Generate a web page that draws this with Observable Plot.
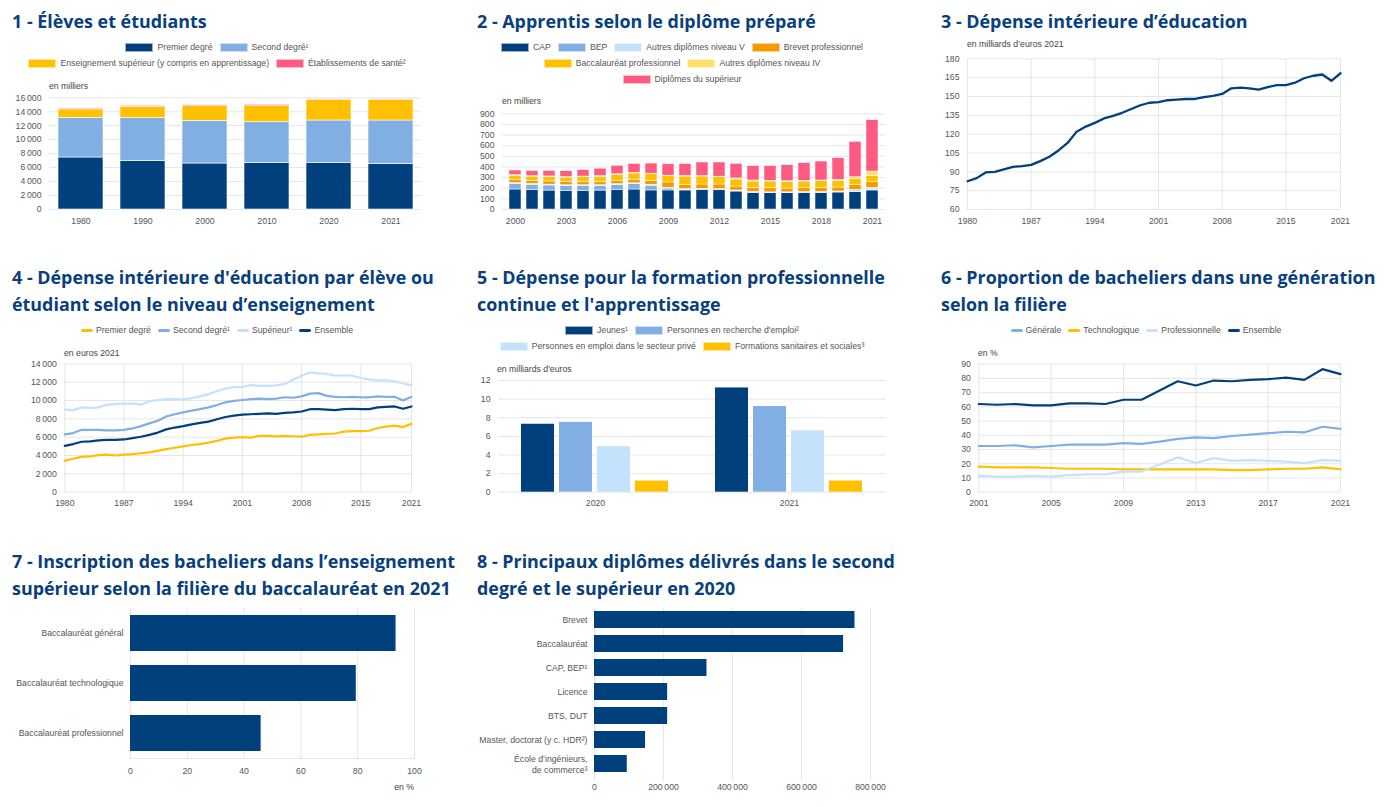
<!DOCTYPE html>
<html><head><meta charset="utf-8">
<script src="https://cdn.jsdelivr.net/npm/d3@7"></script>
<script src="https://cdn.jsdelivr.net/npm/@observablehq/plot@0.6"></script>
<style>
body{margin:0;background:#fff;width:1387px;height:807px;position:relative;overflow:hidden;font-family:"Liberation Sans",Arial,sans-serif;}
.title{position:absolute;font-family:"Open Sans",sans-serif;font-weight:700;font-size:17.9px;line-height:27px;color:#08407e;white-space:nowrap;}
.unit{position:absolute;font-size:8.7px;color:#444;white-space:nowrap;line-height:10px;}
.leg{position:absolute;display:flex;justify-content:center;align-items:center;font-size:8.7px;color:#555;white-space:nowrap;height:12px;}
.leg .it{display:flex;align-items:center;margin:0 3.5px;}
.leg .sw{width:28px;height:9px;margin-right:4px;box-sizing:border-box;border:0.5px solid rgba(255,255,255,0.6);}
.leg .ln{width:12px;height:3px;border-radius:1.5px;margin-right:3px;}
.abs{position:absolute;}
</style></head><body><script>
// ---------- DATA ----------
// Chart 1
const c1Years = ["1980","1990","2000","2010","2020","2021"];
const c1Series = ["Premier degré","Second degré¹","Enseignement supérieur (y compris en apprentissage)","Établissements de santé²"];
const c1Premier = [7450,6970,6590,6690,6640,6540];
const c1Second  = [5680,6120,6110,5820,6110,6210];
const c1Sup     = [1200,1620,2100,2290,2960,2960];
const c1Sante   = [140,140,150,200,90,90];
const c1Ticks = [0,2000,4000,6000,8000,10000,12000,14000,16000];

// Chart 2
const c2Years = [2000,2001,2002,2003,2004,2005,2006,2007,2008,2009,2010,2011,2012,2013,2014,2015,2016,2017,2018,2019,2020,2021];
const c2Series = ["CAP","BEP","Autres diplômes niveau V","Brevet professionnel","Baccalauréat professionnel","Autres diplômes niveau IV","Diplômes du supérieur"];
const c2CAP     = [188,183,178,175,175,178,185,188,179,179,179,185,182,169,157,154,154,157,157,160,166,179];
const c2BEP     = [53,50,48,45,45,42,45,50,45,18,5,3,2,2,1,1,1,1,1,1,1,2];
const c2AutresV = [8,8,8,8,8,8,8,8,8,8,8,7,7,8,8,6,6,6,6,8,18,23];
const c2BP      = [28,28,30,30,32,33,33,35,38,50,38,40,44,37,38,40,36,37,40,38,44,53];
const c2BacPro  = [40,40,42,42,45,48,55,58,62,58,80,75,69,66,59,62,63,62,62,63,56,60];
const c2AutresIV= [5,5,5,5,5,5,5,5,5,5,5,5,5,10,10,7,6,7,7,9,19,40];
const c2Sup     = [45,48,52,55,60,70,80,85,95,107,112,127,133,137,135,138,151,166,178,204,332,483];
const c2Ticks = [0,100,200,300,400,500,600,700,800,900];
const c2XTicks = [2000,2003,2006,2009,2012,2015,2018,2021];

// Chart 3
const c3Years = [1980,1981,1982,1983,1984,1985,1986,1987,1988,1989,1990,1991,1992,1993,1994,1995,1996,1997,1998,1999,2000,2001,2002,2003,2004,2005,2006,2007,2008,2009,2010,2011,2012,2013,2014,2015,2016,2017,2018,2019,2020,2021];
const c3Values = [82.5,85,89.5,90,92,94,94.5,95.5,98.5,102,107,113,122,126,129,132.5,134.5,137,140,143,145,145.5,147,147.5,148,148,149.5,150.5,152,156.5,157,156.5,155.5,157.5,159,159,161,164.5,166.5,167.5,162.5,168.5];
const c3YTicks = [60,75,90,105,120,135,150,165,180];
const c3XTicks = [1980,1987,1994,2001,2008,2015,2021];

// Chart 4
const c4Series = ["Premier degré","Second degré¹","Supérieur¹","Ensemble"];
const c4Premier = [3450,3650,3850,3900,4050,4100,4000,4100,4150,4250,4350,4500,4700,4850,5000,5150,5250,5400,5600,5850,5950,6000,5950,6150,6150,6100,6150,6100,6050,6250,6300,6350,6400,6600,6650,6650,6700,7000,7150,7250,7100,7450];
const c4Second  = [6300,6450,6800,6800,6800,6750,6750,6800,6950,7200,7500,7800,8250,8500,8700,8900,9050,9250,9500,9800,9950,10050,10150,10200,10150,10200,10350,10300,10450,10750,10800,10500,10400,10350,10400,10350,10350,10450,10400,10400,10000,10400];
const c4Sup     = [9000,8950,9250,9200,9250,9550,9600,9650,9650,9550,9900,10050,10150,10150,10100,10250,10450,10700,11000,11300,11450,11450,11700,11600,11600,11650,11800,12250,12700,13050,12950,12900,12700,12750,12700,12450,12300,12200,12200,12100,11850,11650];
const c4Ens     = [5050,5250,5500,5550,5650,5700,5700,5750,5900,6050,6250,6500,6850,7050,7200,7400,7550,7700,7950,8200,8350,8450,8500,8550,8600,8550,8650,8700,8800,9050,9050,9000,8950,9050,9100,9050,9050,9250,9300,9350,9100,9350];
const c4YTicks = [0,2000,4000,6000,8000,10000,12000,14000];

// Chart 5
const c5Years = ["2020","2021"];
const c5Series = ["Jeunes¹","Personnes en recherche d'emploi²","Personnes en emploi dans le secteur privé","Formations sanitaires et sociales³"];
const c5Jeunes = [7.3,11.2];
const c5Recherche = [7.5,9.2];
const c5Emploi = [4.9,6.6];
const c5Sanit = [1.2,1.2];
const c5YTicks = [0,2,4,6,8,10,12];

// Chart 6
const c6Years = [2001,2002,2003,2004,2005,2006,2007,2008,2009,2010,2011,2012,2013,2014,2015,2016,2017,2018,2019,2020,2021];
const c6Series = ["Générale","Technologique","Professionnelle","Ensemble"];
const c6Gen  = [32.5,32.5,33,31.5,32.5,33.5,33.5,33.5,34.5,34,35.5,37.5,38.5,38,39.5,40.5,41.5,42.5,42,46,44.5];
const c6Tech = [18,17.5,17.5,17.5,17,16.5,16.5,16.5,16,16,16,16,16,16,15.5,15.5,16,16.5,16.5,17.5,16];
const c6Pro  = [11.5,11,11,11.5,11,12,12.5,12.5,14.5,14.5,19.5,24.5,20.5,24,22,22.5,22,21.5,20.5,22.5,22];
const c6Ens  = [62,61.5,62,61,61,62.5,62.5,62,65,65,71.5,78,75,78.5,78,79,79.5,80.5,79,86.5,83];
const c6YTicks = [0,10,20,30,40,50,60,70,80,90];
const c6XTicks = [2001,2005,2009,2013,2017,2021];

// Chart 7
const c7Labels = ["Baccalauréat général","Baccalauréat technologique","Baccalauréat professionnel"];
const c7Values = [93.5,79.5,46];
const c7XTicks = [0,20,40,60,80,100];

// Chart 8
const c8Labels = ["Brevet","Baccalauréat","CAP, BEP¹","Licence","BTS, DUT","Master, doctorat (y c. HDR²)","École d’ingénieurs,\nde commerce³"];
const c8Values = [755000,722000,326000,212000,212000,148000,95000];
const c8XTicks = [0,200000,400000,600000,800000];

// Titles
const titles = [
  [12,8,["1 - Élèves et étudiants"]],
  [477,8,["2 - Apprentis selon le diplôme préparé"]],
  [941,8,["3 - Dépense intérieure d’éducation"]],
  [12,264,["4 - Dépense intérieure d'éducation par élève ou","étudiant selon le niveau d’enseignement"]],
  [477,264,["5 - Dépense pour la formation professionnelle","continue et l'apprentissage"]],
  [941,264,["6 - Proportion de bacheliers dans une génération","selon la filière"]],
  [12,548,["7 - Inscription des bacheliers dans l’enseignement","supérieur selon la filière du baccalauréat en 2021"]],
  [477,548,["8 - Principaux diplômes délivrés dans le second","degré et le supérieur en 2020"]]
];

// ---------- STYLE ----------
const DARK="#00407c", MID="#82afe3", LIGHT="#c4e2fb", GOLD="#ffc000", ORANGE="#f59a00", PALE="#ffe169", PINK="#ff5a82";
const GRID="#e6e6e6";
const fr = d3.formatLocale({decimal: ",", thousands: "\u202f", grouping: [3], currency: ["", "€"]});
const fmtInt = fr.format(",d");
const fmtYear = d => String(d);
const baseStyle = {fontFamily: '"Liberation Sans", Arial, sans-serif', fontSize: "8.7px", color: "#555", overflow: "visible", background: "transparent"};

function el(tag, cls, parent) { const e = document.createElement(tag); if (cls) e.className = cls; (parent || document.body).appendChild(e); return e; }
function place(node, left, top) { const d = el("div","abs"); d.style.left = left+"px"; d.style.top = top+"px"; d.appendChild(node); }
function dims(box, f) { return {width: box[2], height: box[3], marginLeft: f[0]-box[0], marginTop: f[1]-box[1], marginRight: box[0]+box[2]-f[2], marginBottom: box[1]+box[3]-f[3]}; }
function unit(text, x, cy, right) { const u = el("div","unit"); u.textContent = text; u.style.top = (cy-5)+"px"; if (right) { u.style.right = (1387-x)+"px"; } else { u.style.left = x+"px"; } }
function legend(rows, cx, ys, kind) {
  rows.forEach((items, i) => {
    const d = el("div","leg"); d.style.left = (cx-300)+"px"; d.style.width = "600px"; d.style.top = (ys[i]-6)+"px";
    items.forEach(([label, color]) => {
      const it = el("div","it", d);
      const s = el("div", kind === "line" ? "ln" : "sw", it); s.style.background = color;
      const t = el("span", null, it); t.textContent = label;
    });
  });
}

// Titles
titles.forEach(([x,y,lines]) => { const t = el("div","title"); t.style.left = x+"px"; t.style.top = y+"px"; t.innerHTML = lines.join("<br>"); });

// ---------- CHART 1 ----------
{
  const rows = [];
  c1Years.forEach((y,i) => [c1Premier,c1Second,c1Sup,c1Sante].forEach((a,j) => rows.push({year:y, series:c1Series[j], value:a[i]})));
  const box=[0,92,434,140], f=[49,97.3,421,209];
  place(Plot.plot({...dims(box,f), style: baseStyle,
    x:{domain:c1Years, paddingInner:0.28, paddingOuter:0.14},
    y:{domain:[0,16000]},
    color:{domain:c1Series, range:[DARK,MID,GOLD,PINK]},
    marks:[
      Plot.gridY(c1Ticks,{stroke:GRID, strokeOpacity:1}),
      Plot.axisY(c1Ticks,{tickSize:0, tickPadding:8, tickFormat:fmtInt, label:null}),
      Plot.axisX({tickSize:0, tickPadding:8, label:null}),
      Plot.barY(rows,{x:"year", y:"value", fill:"series", order:c1Series, stroke:"white", strokeWidth:0.6})
    ]}), box[0], box[1]);
  legend([[[c1Series[0],DARK],[c1Series[1],MID]],[[c1Series[2],GOLD],[c1Series[3],PINK]]], 217, [47,63], "bar");
  unit("en milliers", 49, 86);
}

// ---------- CHART 2 ----------
{
  const rows = [];
  const arrs = [c2CAP,c2BEP,c2AutresV,c2BP,c2BacPro,c2AutresIV,c2Sup];
  const cols = [DARK,MID,LIGHT,ORANGE,GOLD,PALE,PINK];
  c2Years.forEach((y,i) => arrs.forEach((a,j) => rows.push({year:y, series:c2Series[j], value:a[i]})));
  const box=[465,108,434,122], f=[502,113.3,885,209];
  place(Plot.plot({...dims(box,f), style: baseStyle,
    x:{domain:c2Years, paddingInner:0.27, paddingOuter:0.13},
    y:{domain:[0,900]},
    color:{domain:c2Series, range:cols},
    marks:[
      Plot.gridY(c2Ticks,{stroke:GRID, strokeOpacity:1}),
      Plot.axisY(c2Ticks,{tickSize:0, tickPadding:8, tickFormat:fmtInt, label:null}),
      Plot.axisX(c2XTicks,{tickSize:0, tickPadding:8, tickFormat:fmtYear, label:null}),
      Plot.barY(rows,{x:"year", y:"value", fill:"series", order:c2Series, stroke:"white", strokeWidth:0.5})
    ]}), box[0], box[1]);
  legend([[[c2Series[0],cols[0]],[c2Series[1],cols[1]],[c2Series[2],cols[2]],[c2Series[3],cols[3]]],
          [[c2Series[4],cols[4]],[c2Series[5],cols[5]]],
          [[c2Series[6],cols[6]]]], 682, [47,63,79], "bar");
  unit("en milliers", 502, 101);
}

// ---------- CHART 3 ----------
{
  const rows = c3Years.map((y,i) => ({year:y, value:c3Values[i]}));
  const box=[929,50,450,180], f=[967,58.3,1340,209];
  place(Plot.plot({...dims(box,f), style: baseStyle,
    x:{domain:[1980,2021]}, y:{domain:[60,180]},
    marks:[
      Plot.gridY(c3YTicks,{stroke:GRID, strokeOpacity:1}),
      Plot.gridX(c3XTicks,{stroke:GRID, strokeOpacity:1}),
      Plot.axisY(c3YTicks,{tickSize:0, tickPadding:8, tickFormat:fmtInt, label:null}),
      Plot.axisX(c3XTicks,{tickSize:0, tickPadding:8, tickFormat:fmtYear, label:null}),
      Plot.line(rows,{x:"year", y:"value", stroke:DARK, strokeWidth:2.3})
    ]}), box[0], box[1]);
  unit("en milliards d’euros 2021", 967, 44);
}

// ---------- CHART 4 ----------
{
  const rows = [];
  [c4Premier,c4Second,c4Sup,c4Ens].forEach((a,j) => c3Years.forEach((y,i) => rows.push({year:y, series:c4Series[j], value:a[i]})));
  const box=[0,356,434,164], f=[64.3,363.3,411,491.7];
  place(Plot.plot({...dims(box,f), style: baseStyle,
    x:{domain:[1980,2021]}, y:{domain:[0,14000]},
    color:{domain:c4Series, range:[GOLD,MID,LIGHT,DARK]},
    marks:[
      Plot.gridY(c4YTicks,{stroke:GRID, strokeOpacity:1}),
      Plot.gridX(c3XTicks,{stroke:GRID, strokeOpacity:1}),
      Plot.axisY(c4YTicks,{tickSize:0, tickPadding:8, tickFormat:fmtInt, label:null}),
      Plot.axisX(c3XTicks,{tickSize:0, tickPadding:8, tickFormat:fmtYear, label:null}),
      Plot.line(rows,{x:"year", y:"value", stroke:"series", strokeWidth:2.2})
    ]}), box[0], box[1]);
  legend([[[c4Series[0],GOLD],[c4Series[1],MID],[c4Series[2],LIGHT],[c4Series[3],DARK]]], 217, [330], "line");
  unit("en euros 2021", 64, 353);
}

// ---------- CHART 5 ----------
{
  const rows = [];
  c5Years.forEach((y,i) => [c5Jeunes,c5Recherche,c5Emploi,c5Sanit].forEach((a,j) => rows.push({year:y, series:c5Series[j], value:a[i]})));
  const box=[465,372,434,148], f=[497,380,886,491.7];
  place(Plot.plot({...dims(box,f), style: baseStyle,
    fx:{domain:c5Years, padding:0},
    x:{domain:c5Series, paddingInner:0.12, paddingOuter:0.57, axis:null},
    y:{domain:[0,12]},
    color:{domain:c5Series, range:[DARK,MID,LIGHT,GOLD]},
    marks:[
      Plot.gridY(c5YTicks,{stroke:GRID, strokeOpacity:1}),
      Plot.axisY(c5YTicks,{tickSize:0, tickPadding:8, label:null}),
      Plot.axisFx({anchor:"bottom", tickSize:0, tickPadding:8, label:null}),
      Plot.barY(rows,{fx:"year", x:"series", y:"value", fill:"series"})
    ]}), box[0], box[1]);
  legend([[[c5Series[0],DARK],[c5Series[1],MID]],[[c5Series[2],LIGHT],[c5Series[3],GOLD]]], 682, [330,346], "bar");
  unit("en milliards d'euros", 497, 369);
}

// ---------- CHART 6 ----------
{
  const rows = [];
  [c6Gen,c6Tech,c6Pro,c6Ens].forEach((a,j) => c6Years.forEach((y,i) => rows.push({year:y, series:c6Series[j], value:a[i]})));
  const box=[929,356,450,164], f=[978.3,363.7,1340,491.7];
  place(Plot.plot({...dims(box,f), style: baseStyle,
    x:{domain:[2001,2021]}, y:{domain:[0,90]},
    color:{domain:c6Series, range:[MID,GOLD,LIGHT,DARK]},
    marks:[
      Plot.gridY(c6YTicks,{stroke:GRID, strokeOpacity:1}),
      Plot.gridX(c6XTicks,{stroke:GRID, strokeOpacity:1}),
      Plot.axisY(c6YTicks,{tickSize:0, tickPadding:8, label:null}),
      Plot.axisX(c6XTicks,{tickSize:0, tickPadding:8, tickFormat:fmtYear, label:null}),
      Plot.line(rows,{x:"year", y:"value", stroke:"series", strokeWidth:2.2})
    ]}), box[0], box[1]);
  legend([[[c6Series[0],MID],[c6Series[1],GOLD],[c6Series[2],LIGHT],[c6Series[3],DARK]]], 1146, [330], "line");
  unit("en %", 978, 353);
}

// ---------- CHART 7 ----------
{
  const rows = c7Labels.map((l,i) => ({label:l, value:c7Values[i]}));
  const box=[0,600,434,180], f=[130,608,414,758];
  place(Plot.plot({...dims(box,f), style: baseStyle,
    x:{domain:[0,100]},
    y:{domain:c7Labels, paddingInner:0.28, paddingOuter:0.14},
    marks:[
      Plot.gridX(c7XTicks,{stroke:GRID, strokeOpacity:1}),
      Plot.frame({anchor:"bottom", stroke:GRID}),
      Plot.axisY({tickSize:0, tickPadding:7, label:null}),
      Plot.axisX(c7XTicks,{tickSize:0, tickPadding:9, label:null}),
      Plot.barX(rows,{y:"label", x:"value", fill:DARK})
    ]}), box[0], box[1]);
  unit("en %", 414, 787, true);
}

// ---------- CHART 8 ----------
{
  const rows = c8Labels.map((l,i) => ({label:l, value:c8Values[i]}));
  const box=[465,600,434,200], f=[594,607.5,870,775.5];
  place(Plot.plot({...dims(box,f), style: baseStyle,
    x:{domain:[0,800000]},
    y:{domain:c8Labels, paddingInner:0.3, paddingOuter:0.15},
    marks:[
      Plot.gridX(c8XTicks,{stroke:GRID, strokeOpacity:1, insetBottom:-5}),
      Plot.axisY({tickSize:0, tickPadding:7, label:null, lineHeight:1.2}),
      Plot.axisX(c8XTicks,{tickSize:0, tickPadding:8, tickFormat:fmtInt, label:null}),
      Plot.barX(rows,{y:"label", x:"value", fill:DARK})
    ]}), box[0], box[1]);
}
</script></body></html>
